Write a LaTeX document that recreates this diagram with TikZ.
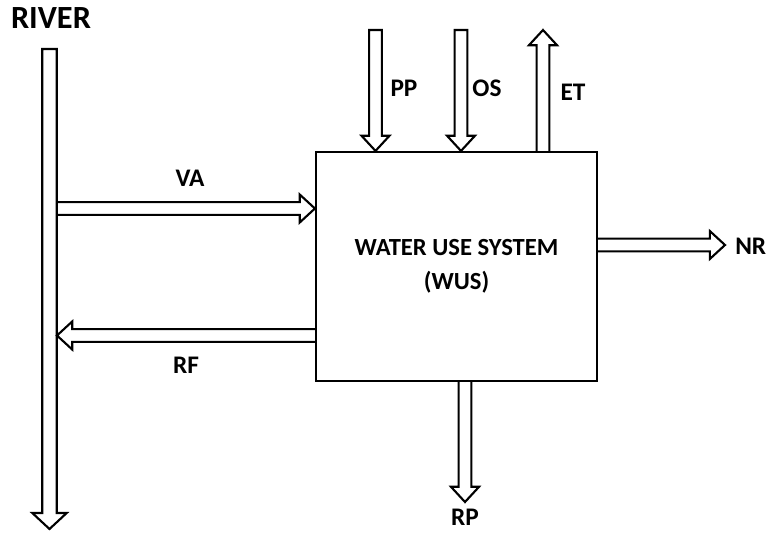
\documentclass[tikz,border=0pt]{standalone}
\usepackage{fontspec}
\setmainfont{Carlito}
\usetikzlibrary{calc,positioning}
\newcommand{\fatshaft}{0.16cm}
\newcommand{\fathead}{0.35cm}
\newcommand{\fatlen}{0.38cm}
\tikzset{
  fat shaft/.store in=\fatshaft,
  fat head/.store in=\fathead,
  fat len/.store in=\fatlen,
  fatarrow/.style={
    draw=black,
    line width=1.5pt,
    line join=miter,
    to path={
      let \p1=(\tikztostart), \p2=(\tikztotarget),
          \n1={atan2(\y2-\y1,\x2-\x1)} in
      ($(\p1)+(\n1+90:\fatshaft)$)
      -- ($(\p2)+(\n1+180:\fatlen)+(\n1+90:\fatshaft)$)
      -- ($(\p2)+(\n1+180:\fatlen)+(\n1+90:\fathead)$)
      -- (\p2)
      -- ($(\p2)+(\n1+180:\fatlen)+(\n1-90:\fathead)$)
      -- ($(\p2)+(\n1+180:\fatlen)+(\n1-90:\fatshaft)$)
      -- ($(\p1)+(\n1-90:\fatshaft)$)
    }
  },
  riverarrow/.style={
    fatarrow,
    fat shaft=0.18cm,
    fat head=0.43cm,
    fat len=0.4cm
  },
  systembox/.style={
    draw=black,
    line width=1.5pt,
    minimum width=7.025cm,
    minimum height=5.725cm,
    align=center,
    font=\bfseries\fontsize{17.5}{24}\selectfont
  },
  flowlabel/.style={
    inner sep=0pt,
    text height=1.6ex,
    text depth=0pt,
    font=\bfseries\fontsize{18}{20}\selectfont
  }
}

\begin{document}
\begin{tikzpicture}[x=0.025cm, y=-0.025cm]
\useasboundingbox (0,0) rectangle (769,533);

% river
\node[flowlabel, font=\bfseries\fontsize{23}{26}\selectfont] (river) at (51,23) {RIVER};
\coordinate (rivertop) at (49.5,49);
\coordinate (riverbot) at (49.5,529);
\draw[riverarrow] (rivertop) to (riverbot) -- cycle;

% water use system
\node[systembox] (wus) at (456.5,266.5) {WATER USE SYSTEM\\(WUS)};

% coordinates for the free ends
\coordinate (vastart) at (57,208.5);
\coordinate (rfend) at (57,335.5);
\coordinate (pptop) at (375.5,30);
\coordinate (ostop) at (461,30);
\coordinate (ettop) at (543,30);
\coordinate (nrend) at (725,245);
\coordinate (rpend) at (465,502);

% flows
\draw[fatarrow] (vastart) to (vastart -| wus.west);
\draw[fatarrow] (wus.west |- rfend) to (rfend);
\draw[fatarrow] (pptop) to (pptop |- wus.north) -- cycle;
\draw[fatarrow] (ostop) to (ostop |- wus.north) -- cycle;
\draw[fatarrow] (wus.north -| ettop) to (ettop);
\draw[fatarrow] (wus.east |- nrend) to (nrend);
\draw[fatarrow] (wus.south -| rpend) to (rpend);

% labels
\node[flowlabel] (va) at (190,181) {VA};
\node[flowlabel] (rf) at (186,368) {RF};
\node[flowlabel] (pp) at (404,91) {PP};
\node[flowlabel] (os) at (487,91) {OS};
\node[flowlabel] (et) at (573,95) {ET};
\node[flowlabel, right=0.25cm of nrend, yshift=-0.1cm] (nr) {NR};
\node[flowlabel, below=0.3cm of rpend] (rp) {RP};
\end{tikzpicture}
\end{document}
